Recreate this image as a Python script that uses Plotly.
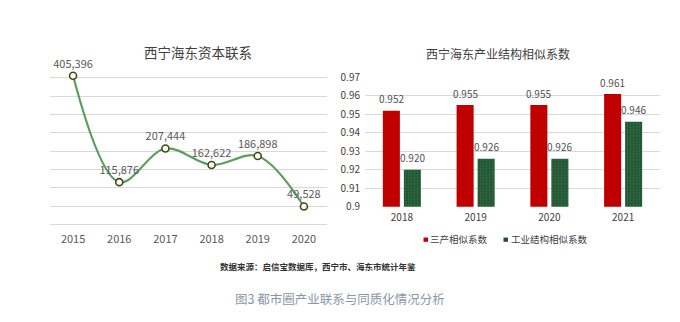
import plotly.graph_objects as go

# Left chart data
years_left = ["2015", "2016", "2017", "2018", "2019", "2020"]
capital_links = [405396, 115876, 207444, 162622, 186898, 49528]

# Right chart data
years_right = ["2018", "2019", "2020", "2021"]
tertiary_sim = [0.952, 0.955, 0.955, 0.961]
industry_sim = [0.920, 0.926, 0.926, 0.946]

series_names = ["三产相似系数", "工业结构相似系数"]
title_left = "西宁海东资本联系"
title_right = "西宁海东产业结构相似系数"
source_text = "数据来源：启信宝数据库，西宁市、海东市统计年鉴"
caption = "图3 都市圈产业联系与同质化情况分析"

W, H = 680, 322
FONT = "Noto Sans CJK SC"
RED = "#c00000"
GREEN = "#1f5530"

def px(x):
    return x / W

def py(y):
    return 1 - y / H

fig = go.Figure()

fig.add_trace(go.Scatter(
    x=years_left, y=capital_links,
    mode="lines+markers+text",
    line=dict(color="#5b9e5f", width=2.2, shape="spline", smoothing=1.0),
    marker=dict(size=7, color="white", line=dict(color="#3d4a14", width=1.6)),
    text=[f"{v:,}" for v in capital_links],
    textposition="top center",
    textfont=dict(family=FONT, size=11, color="#595959"),
    xaxis="x", yaxis="y", showlegend=False, cliponaxis=False,
))

fig.add_trace(go.Bar(
    x=years_right, y=tertiary_sim, name=series_names[0],
    marker=dict(color=RED, line=dict(width=0)),
    xaxis="x2", yaxis="y2", showlegend=False,
))
fig.add_trace(go.Bar(
    x=years_right, y=industry_sim, name=series_names[1],
    marker=dict(color=GREEN, line=dict(width=0),
                pattern=dict(shape=".", fgcolor="#37704a", bgcolor=GREEN,
                             size=3, solidity=0.3, fillmode="replace")),
    xaxis="x2", yaxis="y2", showlegend=False,
))

annotations = [
    dict(text=title_left, x=px(198), y=py(45), xref="paper", yref="paper",
         showarrow=False, font=dict(family=FONT, size=13.5, color="#404040"),
         xanchor="center", yanchor="middle"),
    dict(text=title_right, x=px(498), y=py(47), xref="paper", yref="paper",
         showarrow=False, font=dict(family=FONT, size=12, color="#404040"),
         xanchor="center", yanchor="middle"),
    dict(text="<b>" + source_text + "</b>", x=px(218), y=py(270), xref="paper", yref="paper",
         showarrow=False, font=dict(family=FONT, size=8.5, color="#333333"),
         xanchor="left", yanchor="middle"),
    dict(text=caption, x=px(233), y=py(305), xref="paper", yref="paper",
         showarrow=False, font=dict(family=FONT, size=12.5, color="#8a96a8"),
         xanchor="left", yanchor="middle"),
    # legend texts
    dict(text=series_names[0], x=px(428), y=py(242.5), xref="paper", yref="paper",
         showarrow=False, font=dict(family=FONT, size=9.5, color="#404040"),
         xanchor="left", yanchor="middle"),
    dict(text=series_names[1], x=px(509), y=py(242.5), xref="paper", yref="paper",
         showarrow=False, font=dict(family=FONT, size=9.5, color="#404040"),
         xanchor="left", yanchor="middle"),
]

# bar value labels, placed at each bar's value on the data axes (category index)
for vals, shift in ((tertiary_sim, -10.5), (industry_sim, 10.5)):
    for i, v in enumerate(vals):
        annotations.append(dict(
            text=f"{v:.3f}", x=i, y=v, xref="x2", yref="y2",
            xshift=shift, yshift=12, showarrow=False,
            font=dict(family=FONT, size=10, color="#505050"),
            xanchor="center", yanchor="middle"))

shapes = [
    dict(type="rect", xref="paper", yref="paper", x0=px(423.5), x1=px(428), y0=py(245), y1=py(240.5),
         fillcolor=RED, line=dict(width=0)),
    dict(type="rect", xref="paper", yref="paper", x0=px(503.5), x1=px(508), y0=py(245), y1=py(240.5),
         fillcolor=GREEN, line=dict(width=0)),
]

fig.update_layout(
    width=W, height=H,
    margin=dict(l=0, r=0, t=0, b=0),
    paper_bgcolor="white", plot_bgcolor="white",
    font=dict(family=FONT, color="#595959"),
    barmode="group", bargap=0.43, bargroupgap=0.19,
    annotations=annotations, shapes=shapes,
    showlegend=False,
    xaxis=dict(type="category", domain=[px(50), px(327)], range=[-0.5, 5.5],
               showgrid=False, showline=False, ticks="",
               tickfont=dict(family=FONT, size=11, color="#595959"), fixedrange=True,
               ticklabelstandoff=6),
    yaxis=dict(domain=[py(227), py(53)], range=[0, 450000], dtick=50000,
               showgrid=True, gridcolor="#d9d9d9", gridwidth=1,
               showticklabels=False, zeroline=True, zerolinecolor="#d9d9d9", zerolinewidth=1),
    xaxis2=dict(type="category", domain=[px(365), px(660)], range=[-0.5, 3.5], anchor="y2",
                showgrid=False, showline=False, ticks="",
                tickfont=dict(family=FONT, size=10, color="#404040"), ticklabelstandoff=3),
    yaxis2=dict(domain=[py(208), py(72)], anchor="x2", range=[0.9, 0.97], dtick=0.01,
                tickformat=".2~f", showgrid=True, gridcolor="#d9d9d9", gridwidth=1,
                zeroline=False, showline=False,
                tickfont=dict(family=FONT, size=10, color="#404040"), ticklabelstandoff=4),
)

fig.write_html("out.html")
